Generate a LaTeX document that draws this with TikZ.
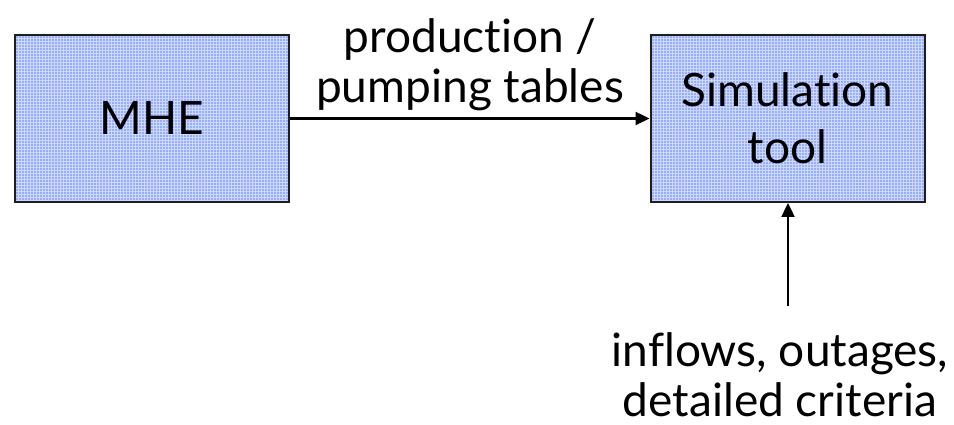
\documentclass[tikz,border=0pt]{standalone}
\usepackage{fontspec}
\setmainfont[Ligatures=NoCommon]{Lato}
\usetikzlibrary{arrows.meta,patterns}
\definecolor{boxfill}{RGB}{150,174,252}
\definecolor{gridline}{RGB}{205,216,255}
\definecolor{boxline}{RGB}{30,30,30}
\tikzset{
  blockbox/.style={draw=boxline, line width=2pt, preaction={fill=boxfill}, pattern=grid, pattern color=gridline, minimum width=274pt, minimum height=167pt, inner sep=0pt, align=center, font=\fontsize{46}{57}\selectfont},
  conn/.style={line width=2.4pt, -{Triangle[length=14pt,width=13pt]}},
  lbl/.style={align=center, font=\fontsize{46}{50}\selectfont, inner sep=0pt}
}
\begin{document}
\begin{tikzpicture}[x=1pt,y=-1pt]
\useasboundingbox (0,0) rectangle (954,425);
\node[blockbox] (mhe) at (152,118.5) {MHE};
\node[blockbox] (sim) at (787.5,118.5) {Simulation\\tool};
\draw[conn] (mhe.east) -- (sim.west);
\node[lbl] (lab1) at (470,65) {production /\\pumping tables};
\coordinate (src) at (788,306);
\draw[conn] (src) -- (sim.south -| src);
\node[lbl] (lab2) at (780,375) {inflows, outages,\\detailed criteria};
\end{tikzpicture}
\end{document}
